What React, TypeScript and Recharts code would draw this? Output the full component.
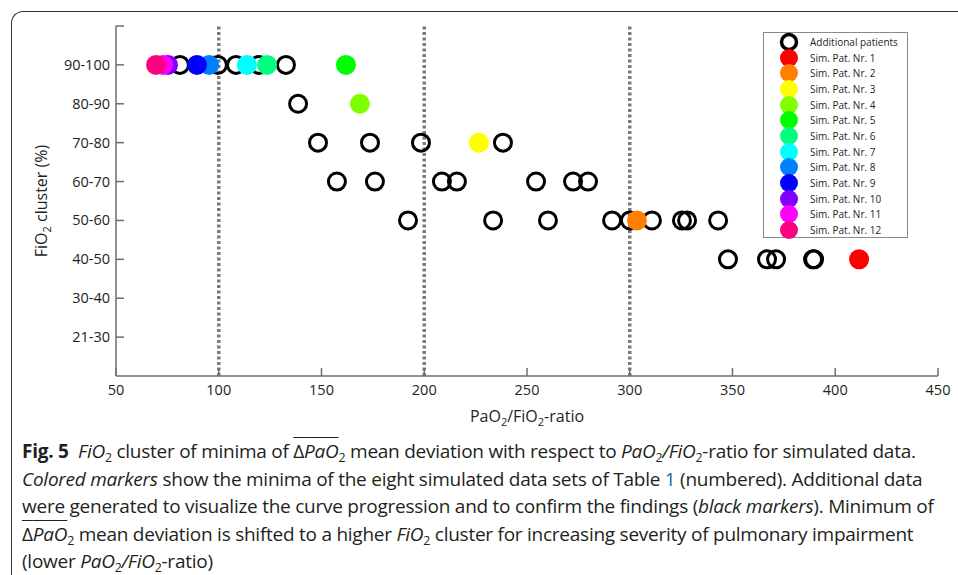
import {
  ScatterChart,
  Scatter,
  XAxis,
  YAxis,
  ReferenceLine,
  Legend,
} from "recharts";

// FiO2 clusters, bottom to top (y value = index + 1)
const clusterLabels = ["21-30", "30-40", "40-50", "50-60", "60-70", "70-80", "80-90", "90-100"];
const xTicks = [50, 100, 150, 200, 250, 300, 350, 400, 450];
const yTicks = [1, 2, 3, 4, 5, 6, 7, 8, 9];
const dividers = [100, 200, 300];

// additional patients (black open markers), PaO2/FiO2-ratio per cluster
const extra40to50 = [347.8, 366.8, 371.2, 389.2, 389.7];
const extra50to60 = [192.1, 233.5, 260.2, 291.4, 300.1, 310.8, 325.4, 327.9, 343.0];
const extra60to70 = [157.5, 176.0, 208.6, 215.9, 254.4, 272.4, 279.7];
const extra70to80 = [148.3, 173.6, 198.4, 238.3];
const extra80to90 = [138.6];
const extra90to100 = [81.1, 99.6, 108.4, 119.6, 132.7];

// simulated patients 1..12
const simNames = [
  "Sim. Pat. Nr. 1", "Sim. Pat. Nr. 2", "Sim. Pat. Nr. 3", "Sim. Pat. Nr. 4",
  "Sim. Pat. Nr. 5", "Sim. Pat. Nr. 6", "Sim. Pat. Nr. 7", "Sim. Pat. Nr. 8",
  "Sim. Pat. Nr. 9", "Sim. Pat. Nr. 10", "Sim. Pat. Nr. 11", "Sim. Pat. Nr. 12",
];
const simRatios = [411.6, 303.5, 226.6, 168.7, 161.9, 123.5, 113.7, 95.3, 89.4, 75.3, 72.9, 69.5];
const simClusters = ["40-50", "50-60", "70-80", "80-90", "90-100", "90-100", "90-100", "90-100", "90-100", "90-100", "90-100", "90-100"];
const simColors = [
  "#ff0000", "#ff8000", "#ffff00", "#80ff00", "#00ff00", "#00ff80",
  "#00ffff", "#0080ff", "#0000ff", "#8000ff", "#ff00ff", "#ff0080",
];

const yOf = (label: string) => clusterLabels.indexOf(label) + 1;

const extraPoints = [
  ...extra40to50.map((r) => ({ ratio: r, cluster: yOf("40-50") })),
  ...extra50to60.map((r) => ({ ratio: r, cluster: yOf("50-60") })),
  ...extra60to70.map((r) => ({ ratio: r, cluster: yOf("60-70") })),
  ...extra70to80.map((r) => ({ ratio: r, cluster: yOf("70-80") })),
  ...extra80to90.map((r) => ({ ratio: r, cluster: yOf("80-90") })),
  ...extra90to100.map((r) => ({ ratio: r, cluster: yOf("90-100") })),
];

const FONT = "'Open Sans', 'Noto Sans', sans-serif";
const AXIS = "#6e6e6e";
const TEXT = "#231f20";

const XTick = ({ x, y, payload }: any) => (
  <g>
    <line x1={x} x2={x} y1={y} y2={y - 8} stroke={AXIS} strokeWidth={1.5} />
    <text x={x} y={y + 19} textAnchor="middle" fontSize={14.5} fontFamily={FONT} fill={TEXT}>
      {payload.value}
    </text>
  </g>
);

const YTick = ({ x, y, payload }: any) => (
  <g>
    <line x1={x} x2={x + 8} y1={y} y2={y} stroke={AXIS} strokeWidth={1.5} />
    <text x={x - 6} y={y + 5} textAnchor="end" fontSize={14.5} fontFamily={FONT} fill={TEXT}>
      {clusterLabels[payload.value - 1] ?? ""}
    </text>
  </g>
);

const Ring = ({ cx, cy }: any) => (
  <circle cx={cx} cy={cy} r={8.5} fill="none" stroke="#000" strokeWidth={3} />
);

const dot = (color: string) => ({ cx, cy }: any) => (
  <circle cx={cx} cy={cy} r={10} fill={color} />
);

const Sub = ({ children }: any) => (
  <sub style={{ fontSize: "0.65em", verticalAlign: "-0.3em", lineHeight: 0 }}>{children}</sub>
);

const DeltaPaO2 = () => (
  <span>
    <span style={{ textDecoration: "overline" }}>
      Δ<i>PaO</i>
    </span>
    <Sub>2</Sub>
  </span>
);

const renderLegend = () => (
  <div
    style={{
      border: "1px solid #8a8a8a",
      background: "#fff",
      height: 206,
      boxSizing: "border-box",
      paddingTop: 1,
      fontFamily: FONT,
      fontSize: 10,
      color: TEXT,
    }}
  >
    {["Additional patients", ...simNames].map((name, i) => (
      <div key={name} style={{ display: "flex", alignItems: "center", height: 15.7 }}>
        <svg width={46} height={16} style={{ overflow: "visible", flex: "none" }}>
          {i === 0 ? (
            <circle cx={25} cy={8} r={7.5} fill="none" stroke="#000" strokeWidth={3.5} />
          ) : (
            <circle cx={25} cy={8} r={9} fill={simColors[i - 1]} />
          )}
        </svg>
        <span style={{ whiteSpace: "nowrap" }}>{name}</span>
      </div>
    ))}
  </div>
);

export default function App() {
  return (
    <div
      style={{
        position: "absolute",
        left: 0,
        top: 0,
        width: 958,
        height: 575,
        overflow: "hidden",
        background: "#fff",
      }}
    >
      <div
        style={{
          position: "absolute",
          left: 11,
          top: 11,
          width: 1000,
          height: 600,
          borderTop: "1.5px solid #333",
          borderLeft: "1.5px solid #333",
          borderTopLeftRadius: 12,
        }}
      />
      <div style={{ position: "absolute", left: 0, top: 0 }}>
        <ScatterChart width={958} height={430} margin={{ top: 26, right: 20, left: 0, bottom: 0 }}>
          <XAxis
            type="number"
            dataKey="ratio"
            domain={[50, 450]}
            ticks={xTicks}
            height={54}
            tickSize={0}
            tickMargin={0}
            tickLine={false}
            axisLine={{ stroke: AXIS, strokeWidth: 1.5 }}
            tick={<XTick />}
            allowDataOverflow
            label={({ viewBox }: any) => (
              <text
                x={viewBox.x + viewBox.width / 2}
                y={viewBox.y + 46}
                textAnchor="middle"
                fontSize={16}
                fontFamily={FONT}
                fill={TEXT}
              >
                PaO<tspan fontSize={11} dy={4}>2</tspan>
                <tspan dy={-4}>/FiO</tspan>
                <tspan fontSize={11} dy={4}>2</tspan>
                <tspan dy={-4}>-ratio</tspan>
              </text>
            )}
          />
          <YAxis
            type="number"
            dataKey="cluster"
            domain={[0, 9]}
            ticks={yTicks}
            width={116}
            tickSize={0}
            tickMargin={0}
            tickLine={false}
            axisLine={{ stroke: AXIS, strokeWidth: 1.5 }}
            tick={<YTick />}
            allowDataOverflow
            label={({ viewBox }: any) => {
              const cx = 47;
              const cy = viewBox.y + viewBox.height / 2;
              return (
                <text
                  x={cx}
                  y={cy}
                  transform={`rotate(-90 ${cx} ${cy})`}
                  textAnchor="middle"
                  fontSize={16}
                  fontFamily={FONT}
                  fill={TEXT}
                >
                  FiO<tspan fontSize={11} dy={4}>2</tspan>
                  <tspan dy={-4}> cluster (%)</tspan>
                </text>
              );
            }}
          />
          {dividers.map((v) => (
            <ReferenceLine key={v} x={v} stroke="#7a7a7a" strokeWidth={3.5} strokeDasharray="3 2.5" />
          ))}
          <Scatter
            name="Additional patients"
            data={extraPoints}
            shape={<Ring />}
            isAnimationActive={false}
          />
          {simNames.map((name, i) => (
            <Scatter
              key={name}
              name={name}
              data={[{ ratio: simRatios[i], cluster: yOf(simClusters[i]) }]}
              fill={simColors[i]}
              shape={dot(simColors[i])}
              isAnimationActive={false}
            />
          ))}
          <Legend
            layout="horizontal"
            verticalAlign="middle"
            align="center"
            content={renderLegend}
            wrapperStyle={{ position: "absolute", left: 763, top: 32, width: 145, height: 206 }}
          />
        </ScatterChart>
      </div>
      <div
        style={{
          position: "absolute",
          left: 22,
          top: 438,
          fontFamily: FONT,
          fontSize: 19,
          letterSpacing: -0.25,
          color: TEXT,
          lineHeight: "27.5px",
          whiteSpace: "nowrap",
        }}
      >
        <div>
          <b>Fig. 5</b>&nbsp; <i>FiO</i>
          <Sub>2</Sub> cluster of minima of <DeltaPaO2 /> mean deviation with respect to <i>PaO</i>
          <Sub>2</Sub>
          <i>/FiO</i>
          <Sub>2</Sub>-ratio for simulated data.
        </div>
        <div>
          <i>Colored markers</i> show the minima of the eight simulated data sets of Table{" "}
          <span style={{ color: "#2a5db0" }}>1</span> (numbered). Additional data
        </div>
        <div>
          were generated to visualize the curve progression and to confirm the findings (<i>black markers</i>). Minimum of
        </div>
        <div>
          <DeltaPaO2 /> mean deviation is shifted to a higher <i>FiO</i>
          <Sub>2</Sub> cluster for increasing severity of pulmonary impairment
        </div>
        <div>
          (lower <i>PaO</i>
          <Sub>2</Sub>
          <i>/FiO</i>
          <Sub>2</Sub>-ratio)
        </div>
      </div>
    </div>
  );
}
